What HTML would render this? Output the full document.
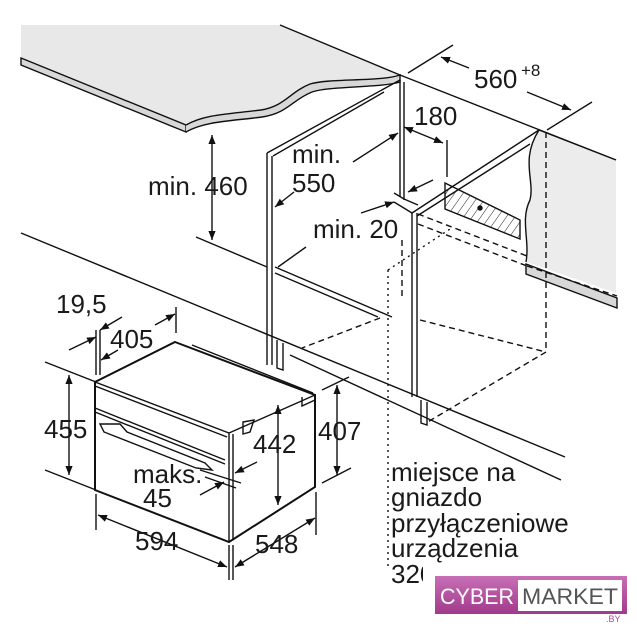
<!DOCTYPE html>
<html><head><meta charset="utf-8"><style>
html,body{margin:0;padding:0;background:#fff;}
svg{display:block;}
text{font-family:"Liberation Sans",sans-serif;fill:#1a1a1a;}
.t{font-size:26px;}
</style></head><body>
<svg width="637" height="640" viewBox="0 0 637 640" xmlns="http://www.w3.org/2000/svg">
<defs>
<marker id="a" viewBox="0 0 10 10" refX="10" refY="5" markerWidth="9" markerHeight="9" orient="auto-start-reverse" markerUnits="userSpaceOnUse"><path d="M0,1 L10,5 L0,9 z" fill="#111"/></marker>
<pattern id="h" width="7" height="7" patternUnits="userSpaceOnUse" patternTransform="rotate(35)"><line x1="0" y1="0" x2="0" y2="7" stroke="#222" stroke-width="1"/></pattern>
<linearGradient id="pk" x1="0" y1="0" x2="0" y2="1"><stop offset="0" stop-color="#c86fb6"/><stop offset="1" stop-color="#a23a8c"/></linearGradient>
</defs>
<g stroke="#111" stroke-width="1.4" fill="none">
<path d="M21,25 L280,25 L400,75 C380,82 330,78 310,84 C290,92 285,106 261,110 C230,114 205,114 186,125 L21,58 Z" fill="#e8e8e8" stroke="none"/>
<path d="M280,25 L400,75 L616,160"/>
<path d="M21,58 L186,125 L186,132 L21,65 Z" fill="#d8d8d8"/>
<path d="M186,125 C205,114 230,114 261,110 C285,106 290,92 310,84 C330,78 380,82 400,75 L400,82 C380,88 330,86 312,92 C292,100 288,113 262,117 C232,121 205,121 186,132" fill="#d8d8d8"/>
<line x1="267" y1="153" x2="267" y2="365"/><line x1="272" y1="156" x2="272" y2="365"/>
<path d="M267,153 L400,80 M273,156 L384,92"/>
<line x1="400" y1="80" x2="400" y2="197"/><line x1="404" y1="82" x2="404" y2="200"/>
<path d="M196,237 L267,267 M275,267 L392,317 M275,273 L378,317"/>
<path d="M277,340 L277,368 L283,370 L283,343"/>
<path d="M21,233 L565,457"/>
<path d="M290,355 L561,480"/>
<line x1="412" y1="213" x2="412" y2="397"/><line x1="417" y1="213" x2="417" y2="397"/>
<path d="M412,213 L539,130 M417,216 L530,144"/>
<path d="M394,193 L404,199 L418,205 M412,213 L394,202"/>
<path d="M421,400 L421,423 L427,425 L427,402"/>
<path d="M445,183 L520,220 L520,239 L445,209 Z" fill="url(#h)"/>
<circle cx="480" cy="208" r="2" fill="#111"/>
<path d="M539,130 L616,160 L616,293 L526,262 C530,240 520,220 530,200 C535,180 520,160 539,130 Z" fill="#ececec" stroke="none"/>
<path d="M539,130 L616,160"/>
<path d="M539,130 C520,160 535,180 530,200 C520,220 530,240 526,262"/>
<path d="M526,264 L617,298 L617,308 L526,274 Z" fill="#d8d8d8"/>
<g stroke-dasharray="6,4">
<line x1="546" y1="132" x2="546" y2="352"/>
<path d="M418,214 L527,256 M418,224 L527,266 M527,266 L617,296"/>
<path d="M420,320 L546,352 L426,423"/>
<path d="M380,318 L302,348"/>
<line x1="402" y1="240" x2="402" y2="297"/>
</g>
<g stroke-dasharray="2,4">
<path d="M388,270 L388,570 M388,270 L453,227"/>
</g>
<path d="M408,73 L453,45 M547,130 L592,102"/>
<line x1="469" y1="68" x2="441" y2="57" marker-end="url(#a)"/>
<line x1="527" y1="92" x2="571" y2="110" marker-end="url(#a)"/>
<line x1="404" y1="127" x2="443" y2="143" marker-start="url(#a)" marker-end="url(#a)"/>
<line x1="447" y1="140" x2="447" y2="177"/>
<line x1="353" y1="162" x2="398" y2="133" marker-end="url(#a)"/>
<line x1="294" y1="192" x2="275" y2="207" marker-end="url(#a)"/>
<line x1="212" y1="135" x2="212" y2="240" marker-start="url(#a)" marker-end="url(#a)"/>
<line x1="278" y1="267" x2="306" y2="247"/>
<line x1="361" y1="213" x2="394" y2="202" marker-end="url(#a)"/>
<line x1="433" y1="180" x2="408" y2="192" marker-end="url(#a)"/>
<path d="M175,342 L315,395 L315,487 L229,542 L95,490 L95,382 Z" fill="#fff" stroke-width="2"/>
<path d="M95,382 L229,433 L315,395 M229,433 L229,542 M233,434 L233,540"/>
<path d="M192,345 L313,393 M95,386 L227,437"/>
<path d="M95,408 L225,460 M95,412 L225,464"/>
<path d="M100,424 L120,424 L127,432 L205,463 L212,470 L196,468 L104,432 Z"/>
<path d="M243,422 L254,420 L250,432 L243,434 Z"/>
<path d="M302,397 L302,406 L315,400"/>
<path d="M96,330 L96,375 M100,330 L100,375 M176,307 L176,333"/>
<line x1="69" y1="350" x2="96" y2="337" marker-end="url(#a)"/>
<line x1="122" y1="317" x2="100" y2="330" marker-end="url(#a)"/>
<line x1="118" y1="350" x2="101" y2="360" marker-end="url(#a)"/>
<line x1="155" y1="325" x2="175" y2="314" marker-end="url(#a)"/>
<path d="M45,362 L96,382 M45,470 L96,490"/>
<line x1="69" y1="375" x2="69" y2="475" marker-start="url(#a)" marker-end="url(#a)"/>
<line x1="278" y1="405" x2="278" y2="505" marker-start="url(#a)" marker-end="url(#a)"/>
<path d="M322,390 L349,377 M322,483 L351,468"/>
<line x1="337" y1="385" x2="337" y2="475" marker-start="url(#a)" marker-end="url(#a)"/>
<path d="M200,470 L241,483 M205,477 L236,488"/>
<line x1="257" y1="462" x2="235" y2="473" marker-end="url(#a)"/>
<line x1="200" y1="495" x2="224" y2="482" marker-end="url(#a)"/>
<path d="M96,494 L96,530 M229,545 L229,580 M233,545 L233,580 M316,492 L316,535"/>
<line x1="98" y1="515" x2="227" y2="567" marker-start="url(#a)" marker-end="url(#a)"/>
<line x1="235" y1="567" x2="315" y2="518" marker-start="url(#a)" marker-end="url(#a)"/>
</g>
<text class="t" x="474" y="88">560</text><text x="521" y="76" font-size="17">+8</text>
<text class="t" x="414" y="125">180</text>
<text class="t" x="292" y="163">min.</text>
<text class="t" x="292" y="192">550</text>
<text class="t" x="148" y="195">min. 460</text>
<text class="t" x="313" y="238">min. 20</text>
<text class="t" x="56" y="313">19,5</text>
<text class="t" x="110" y="348">405</text>
<text class="t" x="44" y="438">455</text>
<text class="t" x="253" y="453">442</text>
<text class="t" x="318" y="440">407</text>
<text class="t" x="133" y="483">maks.</text>
<text class="t" x="143" y="507">45</text>
<text class="t" x="135" y="550">594</text>
<text class="t" x="255" y="553">548</text>
<text class="t" x="391" y="481">miejsce na</text>
<text class="t" x="391" y="506">gniazdo</text>
<text class="t" x="391" y="532">przyłączeniowe</text>
<text class="t" x="391" y="557">urządzenia</text>
<text class="t" x="391" y="583">320</text>
<rect x="423" y="560" width="14" height="30" fill="#fff"/>
<rect x="435" y="576" width="192" height="38" fill="url(#pk)"/>
<rect x="518" y="580" width="104" height="31" fill="#fff"/>
<text x="440" y="604" font-size="22" textLength="74" lengthAdjust="spacingAndGlyphs" style="fill:#fff">CYBER</text>
<text x="522" y="604" font-size="22" textLength="96" lengthAdjust="spacingAndGlyphs" style="fill:#555">MARKET</text>
<text x="606" y="622" font-size="9" style="fill:#b04a98">.BY</text>
</svg>
</body></html>
